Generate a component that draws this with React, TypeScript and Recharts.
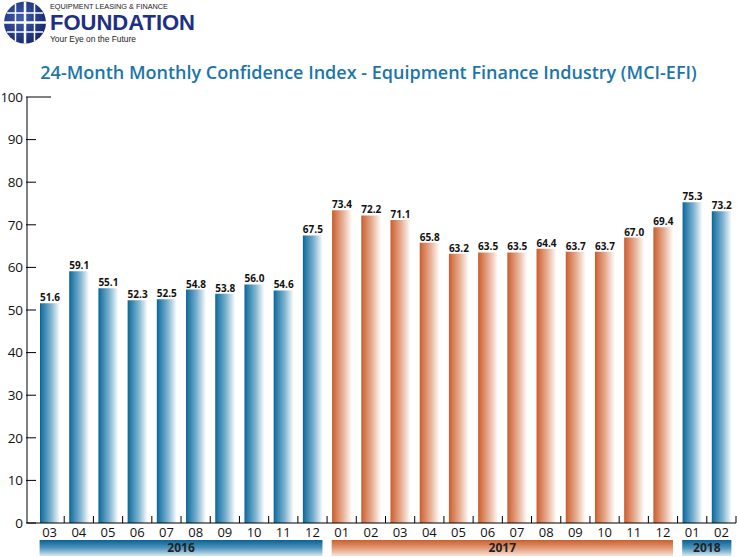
import { BarChart, Bar, XAxis, YAxis, Cell, LabelList } from "recharts";

// MCI-EFI, March 2016 through February 2018
const months = [
  "03", "04", "05", "06", "07", "08", "09", "10", "11", "12",
  "01", "02", "03", "04", "05", "06", "07", "08", "09", "10", "11", "12",
  "01", "02",
];
const years = [
  "2016", "2016", "2016", "2016", "2016", "2016", "2016", "2016", "2016", "2016",
  "2017", "2017", "2017", "2017", "2017", "2017", "2017", "2017", "2017", "2017", "2017", "2017",
  "2018", "2018",
];
const values = [
  51.6, 59.1, 55.1, 52.3, 52.5, 54.8, 53.8, 56.0, 54.6, 67.5,
  73.4, 72.2, 71.1, 65.8, 63.2, 63.5, 63.5, 64.4, 63.7, 63.7, 67.0, 69.4,
  75.3, 73.2,
];
const yTicks = [0, 10, 20, 30, 40, 50, 60, 70, 80, 90, 100];

const data = months.map((m, i) => ({
  key: `${years[i]}-${m}`,
  month: m,
  year: years[i],
  value: values[i],
}));

const FONT = "'Open Sans', sans-serif";
const LOGO_FONT = "'Liberation Sans', Arial, sans-serif";
const BAR_SIZE = 20;
const PAD_LEFT = 8;

const isOrange = (year: string) => year === "2017";

const YTick = (props: any) => {
  const { x, y, payload } = props;
  const axisX = x + 5;
  const len = payload.value === 100 ? 24 : 9;
  return (
    <g>
      <line x1={axisX - 1} x2={axisX + len} y1={y} y2={y} stroke="#000" strokeWidth={1} />
      <text
        x={x + 0.5}
        y={y}
        dy="0.36em"
        textAnchor="end"
        fontSize={13.5}
        letterSpacing={-0.4}
        fontFamily={FONT}
        fill="#111"
      >
        {payload.value}
      </text>
    </g>
  );
};

const XTick = (props: any) => {
  const { x, y, payload, index, width } = props;
  const n = data.length;
  const step =
    payload && payload.offset > 2 ? payload.offset * 2 : (width - PAD_LEFT) / n;
  const d = data[index];
  const first = index === 0 || data[index - 1].year !== d.year;
  let count = 0;
  if (first) {
    while (index + count < n && data[index + count].year === d.year) count++;
  }
  const bandX = x - BAR_SIZE / 2;
  const bandW = (count - 1) * step + BAR_SIZE;
  return (
    <g>
      <line x1={x + step / 2} x2={x + step / 2} y1={y} y2={y - 7} stroke="#000" strokeWidth={1} />
      <text x={x} y={y + 14} textAnchor="middle" fontSize={13} fontFamily={FONT} fill="#111">
        {d.month}
      </text>
      {first && (
        <g>
          <rect
            x={bandX}
            y={y + 17}
            width={bandW}
            height={16}
            fill={isOrange(d.year) ? "url(#orangeBand)" : "url(#blueBand)"}
          />
          <text
            x={bandX + bandW / 2}
            y={y + 29}
            textAnchor="middle"
            fontSize={12}
            fontWeight={700}
            fontFamily={FONT}
            fill="#222"
          >
            {d.year}
          </text>
        </g>
      )}
    </g>
  );
};

const ValueLabel = (props: any) => {
  const { x, y, width, value } = props;
  return (
    <text
      x={x + width / 2}
      y={y - 2}
      textAnchor="middle"
      fontSize={10}
      fontWeight={700}
      fontFamily={FONT}
      fill="#111"
      stroke="#fff"
      strokeWidth={2}
      paintOrder="stroke"
    >
      {Number(value).toFixed(1)}
    </text>
  );
};

const Logo = () => (
  <svg width={210} height={48} style={{ position: "absolute", left: 0, top: 0 }}>
    <defs>
      <radialGradient id="globe" cx="40%" cy="40%" r="65%">
        <stop offset="0%" stopColor="#3f5fb0" />
        <stop offset="100%" stopColor="#16266e" />
      </radialGradient>
    </defs>
    <circle cx={25} cy={22.5} r={21} fill="url(#globe)" />
    <line x1={4} x2={46} y1={22.5} y2={22.5} stroke="#fff" strokeWidth={2.5} />
    <line x1={25} x2={25} y1={1.5} y2={43.5} stroke="#fff" strokeWidth={2.5} />
    <line x1={7} x2={43} y1={13} y2={13} stroke="#fff" strokeWidth={1.5} />
    <line x1={7} x2={43} y1={32} y2={32} stroke="#fff" strokeWidth={1.5} />
    <line x1={15.5} x2={15.5} y1={4} y2={41} stroke="#fff" strokeWidth={1.5} />
    <line x1={34.5} x2={34.5} y1={4} y2={41} stroke="#fff" strokeWidth={1.5} />
    <text
      x={50}
      y={9}
      fontSize={7}
      fontFamily={LOGO_FONT}
      fill="#222"
      textLength={118}
      lengthAdjust="spacingAndGlyphs"
    >
      EQUIPMENT LEASING &amp; FINANCE
    </text>
    <text
      x={50}
      y={30}
      fontSize={21.5}
      fontWeight={900}
      fontFamily={LOGO_FONT}
      fill="#1e2f86"
      textLength={145}
      lengthAdjust="spacingAndGlyphs"
    >
      FOUNDATION
    </text>
    <text
      x={50}
      y={42}
      fontSize={8.5}
      fontFamily={LOGO_FONT}
      fill="#222"
      textLength={86}
      lengthAdjust="spacingAndGlyphs"
    >
      Your Eye on the Future
    </text>
  </svg>
);

export default function App() {
  return (
    <div
      style={{
        position: "absolute",
        left: 0,
        top: 0,
        width: 737,
        height: 557,
        background: "#fff",
        overflow: "hidden",
      }}
    >
      <Logo />
      <div
        style={{
          position: "absolute",
          left: 0,
          top: 60,
          width: 737,
          textAlign: "center",
          fontFamily: FONT,
          fontWeight: 600,
          fontSize: 18,
          lineHeight: "24px",
          color: "#1b76aa",
        }}
      >
        24-Month Monthly Confidence Index - Equipment Finance Industry (MCI-EFI)
      </div>
      <div style={{ position: "absolute", left: 0, top: 0 }}>
        <BarChart
          width={737}
          height={557}
          data={data}
          margin={{ top: 97, right: 1, bottom: 0, left: 0 }}
          barCategoryGap={0}
          style={{ overflow: "visible" }}
        >
          <defs>
            <linearGradient id="blueBar" x1="0" y1="0" x2="1" y2="0">
              <stop offset="0%" stopColor="#0d5f8e" />
              <stop offset="8%" stopColor="#1b74a4" />
              <stop offset="55%" stopColor="#7fb3d0" />
              <stop offset="100%" stopColor="#ffffff" />
            </linearGradient>
            <linearGradient id="orangeBar" x1="0" y1="0" x2="1" y2="0">
              <stop offset="0%" stopColor="#c45a2b" />
              <stop offset="8%" stopColor="#d06a3d" />
              <stop offset="55%" stopColor="#e8b197" />
              <stop offset="100%" stopColor="#ffffff" />
            </linearGradient>
            <linearGradient id="blueBand" x1="0" y1="0" x2="0" y2="1">
              <stop offset="0%" stopColor="#0a6193" />
              <stop offset="50%" stopColor="#4f95bd" />
              <stop offset="100%" stopColor="#d7e8f1" />
            </linearGradient>
            <linearGradient id="orangeBand" x1="0" y1="0" x2="0" y2="1">
              <stop offset="0%" stopColor="#c8602e" />
              <stop offset="50%" stopColor="#e39a78" />
              <stop offset="100%" stopColor="#f9e3d8" />
            </linearGradient>
          </defs>
          <XAxis
            dataKey="key"
            interval={0}
            height={34}
            padding={{ left: PAD_LEFT, right: 0 }}
            axisLine={{ stroke: "#000", strokeWidth: 1 }}
            tickLine={false}
            tickSize={0}
            tickMargin={0}
            tick={<XTick />}
          />
          <YAxis
            domain={[0, 100]}
            ticks={yTicks}
            width={27}
            interval={0}
            axisLine={{ stroke: "#000", strokeWidth: 1 }}
            tickLine={false}
            tickSize={0}
            tickMargin={5}
            tick={<YTick />}
          />
          <Bar dataKey="value" barSize={BAR_SIZE} isAnimationActive={false}>
            {data.map((d) => (
              <Cell key={d.key} fill={isOrange(d.year) ? "url(#orangeBar)" : "url(#blueBar)"} />
            ))}
            <LabelList dataKey="value" content={<ValueLabel />} />
          </Bar>
        </BarChart>
      </div>
    </div>
  );
}
